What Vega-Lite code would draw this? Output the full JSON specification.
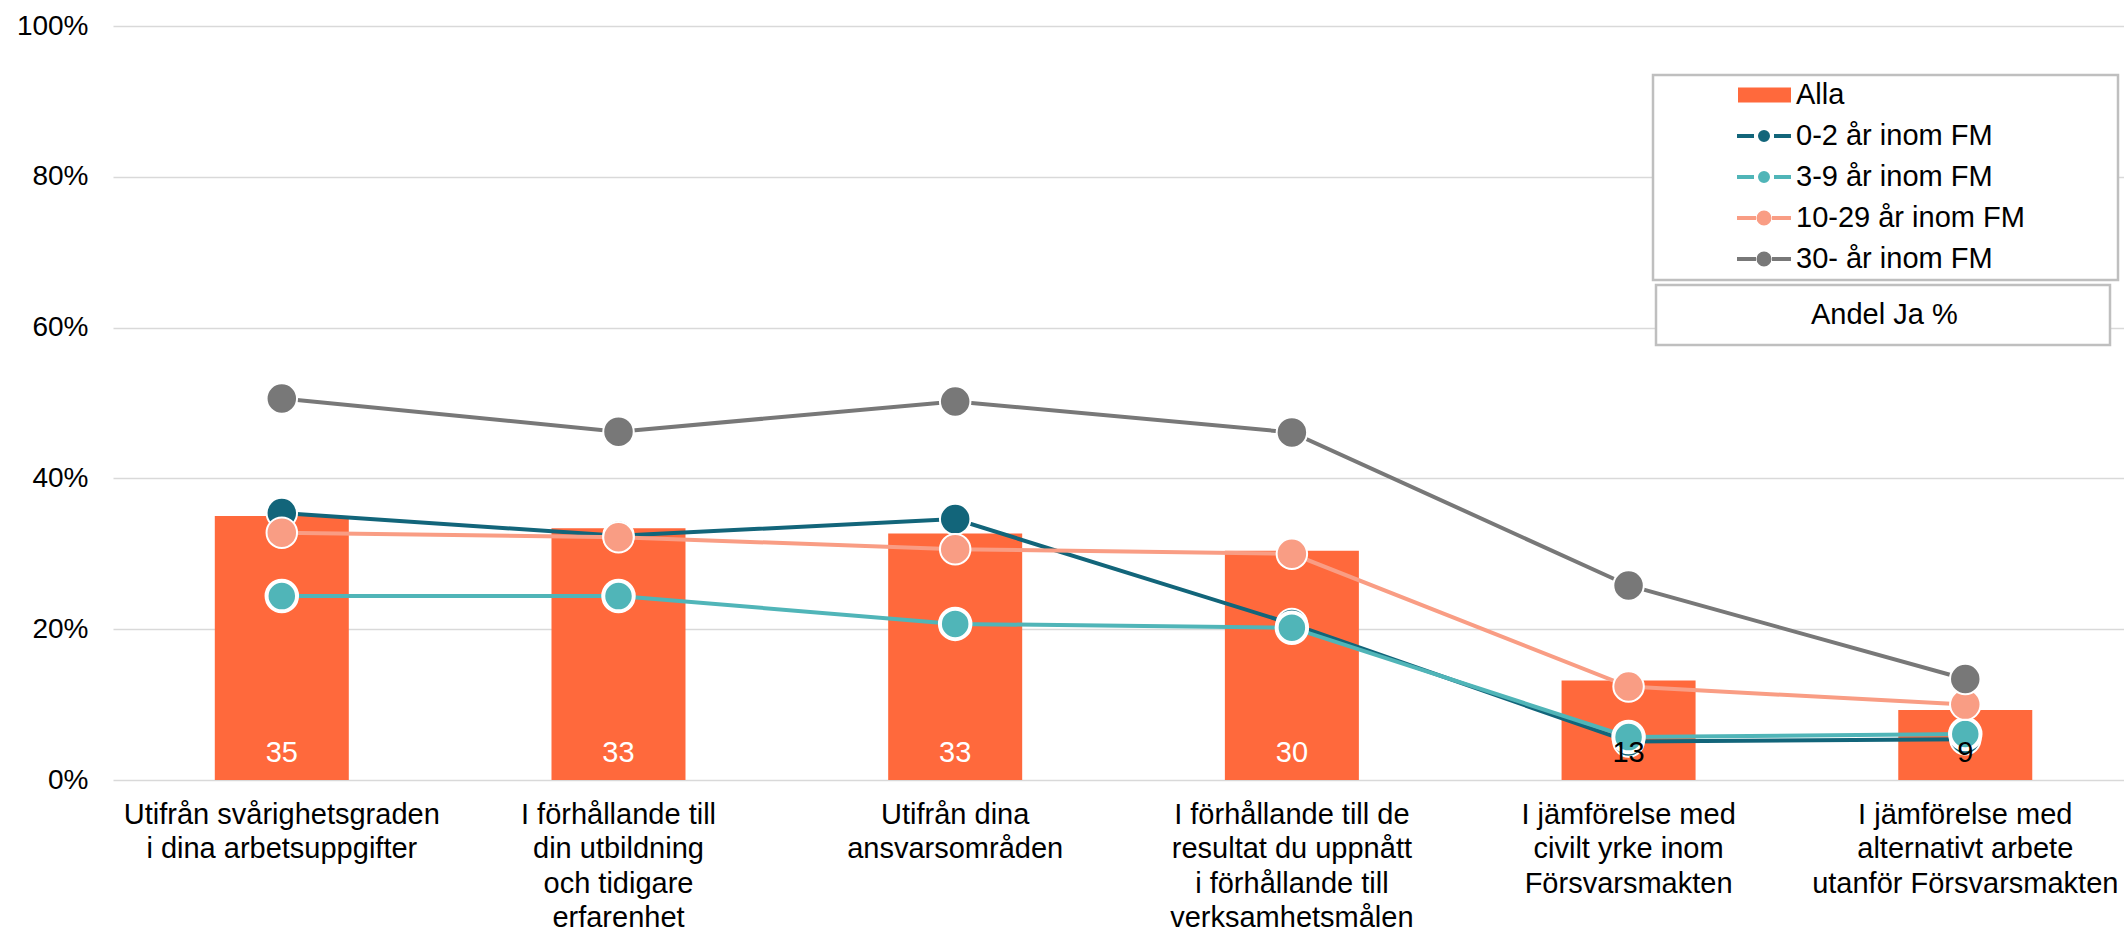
{
  "$schema": "https://vega.github.io/schema/vega-lite/v6.json",
  "width": 2011,
  "height": 754,
  "autosize": {"type": "none"},
  "padding": {"left": 113, "top": 26, "right": 0, "bottom": 150},
  "background": "white",
  "config": {"font": "Liberation Sans", "view": {"stroke": null}, "legend": {"strokeWidth": 2.5}},
  "data": {
    "values": [
      {"cat": "Utifrån svårighetsgraden|i dina arbetsuppgifter", "series": "Alla", "value": 35.0},
      {"cat": "I förhållande till|din utbildning|och tidigare|erfarenhet", "series": "Alla", "value": 33.4},
      {"cat": "Utifrån dina|ansvarsområden", "series": "Alla", "value": 32.7},
      {"cat": "I förhållande till de|resultat du uppnått|i förhållande till|verksamhetsmålen", "series": "Alla", "value": 30.4},
      {"cat": "I jämförelse med|civilt yrke inom|Försvarsmakten", "series": "Alla", "value": 13.2},
      {"cat": "I jämförelse med|alternativt arbete|utanför Försvarsmakten", "series": "Alla", "value": 9.3},
      {"cat": "Utifrån svårighetsgraden|i dina arbetsuppgifter", "series": "0-2 år inom FM", "value": 35.4},
      {"cat": "I förhållande till|din utbildning|och tidigare|erfarenhet", "series": "0-2 år inom FM", "value": 32.4},
      {"cat": "Utifrån dina|ansvarsområden", "series": "0-2 år inom FM", "value": 34.6},
      {"cat": "I förhållande till de|resultat du uppnått|i förhållande till|verksamhetsmålen", "series": "0-2 år inom FM", "value": 20.7},
      {"cat": "I jämförelse med|civilt yrke inom|Försvarsmakten", "series": "0-2 år inom FM", "value": 5.1},
      {"cat": "I jämförelse med|alternativt arbete|utanför Försvarsmakten", "series": "0-2 år inom FM", "value": 5.4},
      {"cat": "Utifrån svårighetsgraden|i dina arbetsuppgifter", "series": "3-9 år inom FM", "value": 24.4},
      {"cat": "I förhållande till|din utbildning|och tidigare|erfarenhet", "series": "3-9 år inom FM", "value": 24.4},
      {"cat": "Utifrån dina|ansvarsområden", "series": "3-9 år inom FM", "value": 20.7},
      {"cat": "I förhållande till de|resultat du uppnått|i förhållande till|verksamhetsmålen", "series": "3-9 år inom FM", "value": 20.2},
      {"cat": "I jämförelse med|civilt yrke inom|Försvarsmakten", "series": "3-9 år inom FM", "value": 5.7},
      {"cat": "I jämförelse med|alternativt arbete|utanför Försvarsmakten", "series": "3-9 år inom FM", "value": 6.1},
      {"cat": "Utifrån svårighetsgraden|i dina arbetsuppgifter", "series": "10-29 år inom FM", "value": 32.8},
      {"cat": "I förhållande till|din utbildning|och tidigare|erfarenhet", "series": "10-29 år inom FM", "value": 32.2},
      {"cat": "Utifrån dina|ansvarsområden", "series": "10-29 år inom FM", "value": 30.6},
      {"cat": "I förhållande till de|resultat du uppnått|i förhållande till|verksamhetsmålen", "series": "10-29 år inom FM", "value": 30.0},
      {"cat": "I jämförelse med|civilt yrke inom|Försvarsmakten", "series": "10-29 år inom FM", "value": 12.4},
      {"cat": "I jämförelse med|alternativt arbete|utanför Försvarsmakten", "series": "10-29 år inom FM", "value": 10.0},
      {"cat": "Utifrån svårighetsgraden|i dina arbetsuppgifter", "series": "30- år inom FM", "value": 50.6},
      {"cat": "I förhållande till|din utbildning|och tidigare|erfarenhet", "series": "30- år inom FM", "value": 46.2},
      {"cat": "Utifrån dina|ansvarsområden", "series": "30- år inom FM", "value": 50.2},
      {"cat": "I förhållande till de|resultat du uppnått|i förhållande till|verksamhetsmålen", "series": "30- år inom FM", "value": 46.1},
      {"cat": "I jämförelse med|civilt yrke inom|Försvarsmakten", "series": "30- år inom FM", "value": 25.8},
      {"cat": "I jämförelse med|alternativt arbete|utanför Försvarsmakten", "series": "30- år inom FM", "value": 13.4}
    ]
  },
  "encoding": {
    "x": {
      "field": "cat",
      "type": "nominal",
      "sort": null,
      "scale": {
        "domain": [
          "Utifrån svårighetsgraden|i dina arbetsuppgifter",
          "I förhållande till|din utbildning|och tidigare|erfarenhet",
          "Utifrån dina|ansvarsområden",
          "I förhållande till de|resultat du uppnått|i förhållande till|verksamhetsmålen",
          "I jämförelse med|civilt yrke inom|Försvarsmakten",
          "I jämförelse med|alternativt arbete|utanför Försvarsmakten"
        ],
        "paddingInner": 0.602,
        "paddingOuter": 0.2874,
        "align": 0.526
      },
      "axis": {
        "title": null,
        "labelExpr": "split(datum.label, '|')",
        "labelAngle": 0,
        "labelFontSize": 29,
        "labelLineHeight": 34.5,
        "labelColor": "black",
        "labelPadding": 20,
        "ticks": false,
        "domain": false,
        "grid": false,
        "labelLimit": 1000,
        "labelOverlap": false
      }
    },
    "y": {
      "field": "value",
      "type": "quantitative",
      "scale": {"domain": [0, 100], "nice": false},
      "axis": {
        "title": null,
        "values": [0, 20, 40, 60, 80, 100],
        "labelExpr": "datum.value + '%'",
        "labelFontSize": 28,
        "labelColor": "black",
        "labelPadding": 25,
        "ticks": false,
        "domain": false,
        "gridColor": "#d9d9d9",
        "gridWidth": 1.5
      }
    }
  },
  "layer": [
    {
      "transform": [{"filter": "datum.series === 'Alla'"}],
      "mark": {"type": "bar"},
      "encoding": {
        "color": {
          "field": "series",
          "type": "nominal",
          "scale": {
            "domain": ["Alla", "0-2 år inom FM", "3-9 år inom FM", "10-29 år inom FM", "30- år inom FM"],
            "range": ["#FF693C", "#12657A", "#50B5B8", "#F99D84", "#787878"]
          },
          "legend": {
            "orient": "none",
            "legendX": 1540,
            "legendY": 49,
            "title": null,
            "direction": "vertical",
            "padding": 5.5,
            "rowPadding": 11,
            "labelFontSize": 29,
            "labelColor": "black",
            "labelLimit": 1000,
            "labelOffset": 17.5,
            "symbolOffset": 91,
            "symbolSize": 4,
            "symbolStrokeWidth": 4,
            "strokeColor": "#bfbfbf",
            "fillColor": "white",
            "encode": {
              "legend": {"update": {"strokeWidth": {"value": 2.5}}},
              "symbols": {
                "update": {
                  "shape": {"signal": "datum.value === 'Alla' ? 'M0,0M340,0M-26,-7.5H27V7.5H-26Z' : (datum.value === '10-29 år inom FM' || datum.value === '30- år inom FM') ? 'M0,0M340,0M-27,0H-8M8,0H27M-5.5,0A5.5,5.5 0 1,0 5.5,0A5.5,5.5 0 1,0 -5.5,0Z' : 'M0,0M340,0M-27,0H-10M10,0H27M-4,0A4,4 0 1,0 4,0A4,4 0 1,0 -4,0Z'"},
                  "fill": {"signal": "scale('color', datum.value)"},
                  "stroke": {"signal": "scale('color', datum.value)"},
                  "strokeWidth": {"signal": "datum.value === 'Alla' ? 0 : 4"},
                  "opacity": {"value": 1},
                  "size": {"value": 4}
                }
              }
            }
          }
        }
      }
    },
    {
      "transform": [{"filter": "datum.series !== 'Alla'"}],
      "mark": {"type": "line", "strokeWidth": 4},
      "encoding": {
        "color": {"field": "series", "type": "nominal", "legend": null}
      }
    },
    {
      "transform": [{"filter": "datum.series !== 'Alla'"}],
      "mark": {"type": "circle", "size": 930, "opacity": 1, "stroke": "white"},
      "encoding": {
        "color": {"field": "series", "type": "nominal", "legend": null},
        "strokeWidth": {"condition": {"test": "datum.series === '3-9 år inom FM'", "value": 4}, "value": 2}
      }
    },
    {
      "transform": [{"filter": "datum.series === 'Alla'"}],
      "mark": {"type": "text", "fontSize": 29, "dy": -18, "baseline": "alphabetic"},
      "encoding": {
        "y": {"datum": 0},
        "text": {"field": "value", "type": "quantitative", "format": ".0f"},
        "color": {"condition": {"test": "datum.value < 20", "value": "black"}, "value": "white"}
      }
    },
    {
      "transform": [{"filter": "datum.series === 'Alla'"}],
      "mark": {"type": "point", "opacity": 0},
      "encoding": {
        "shape": {
          "field": "series",
          "type": "nominal",
          "scale": {"domain": ["Andel Ja %"]},
          "legend": {
            "orient": "none",
            "legendX": 1543,
            "legendY": 259,
            "title": null,
            "padding": 15,
            "labelFontSize": 29,
            "labelColor": "black",
            "labelLimit": 1000,
            "labelOffset": 111,
            "labelExpr": "datum.label + '\u00a0\u00a0\u00a0\u00a0\u00a0\u00a0\u00a0\u00a0\u00a0\u00a0\u00a0\u00a0\u00a0\u00a0\u00a0\u00a0\u00a0\u200b'",
            "symbolSize": 4,
            "symbolOpacity": 0,
            "strokeColor": "#bfbfbf",
            "fillColor": "white",
            "encode": {
              "legend": {"update": {"strokeWidth": {"value": 2.5}}},
              "symbols": {"update": {"opacity": {"value": 0}}}
            }
          }
        }
      }
    }
  ]
}
